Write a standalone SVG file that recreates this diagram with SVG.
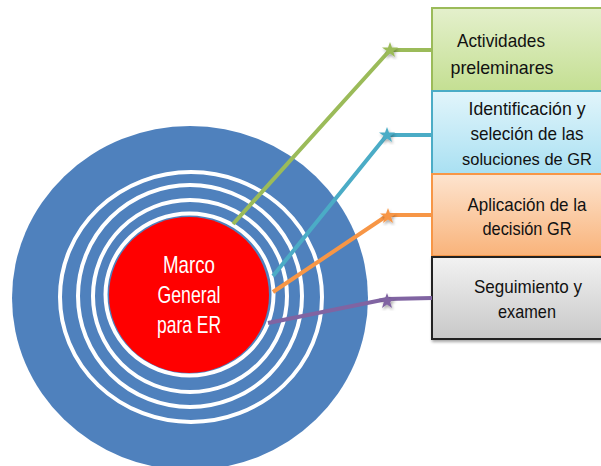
<svg xmlns="http://www.w3.org/2000/svg" width="601" height="466" viewBox="0 0 601 466">
<defs>
<linearGradient id="gGreen" x1="0" y1="0" x2="0" y2="1"><stop offset="0" stop-color="#e4f0cc"/><stop offset="1" stop-color="#c4df92"/></linearGradient>
<linearGradient id="gBlue" x1="0" y1="0" x2="0" y2="1"><stop offset="0" stop-color="#e2f5fb"/><stop offset="1" stop-color="#a9e0f2"/></linearGradient>
<linearGradient id="gOrange" x1="0" y1="0" x2="0" y2="1"><stop offset="0" stop-color="#fde4cf"/><stop offset="1" stop-color="#f9b37a"/></linearGradient>
<linearGradient id="gGray" x1="0" y1="0" x2="0" y2="1"><stop offset="0" stop-color="#f2f2f2"/><stop offset="1" stop-color="#c8c8c8"/></linearGradient>
<filter id="sh" x="-20%" y="-20%" width="140%" height="140%"><feDropShadow dx="1" dy="2" stdDeviation="1.5" flood-color="#000" flood-opacity="0.35"/></filter>
<path id="star" d="M0,-8 L2,-2.5 8,-2.5 3.2,1.1 5,7 0,3.6 -5,7 -3.2,1.1 -8,-2.5 -2,-2.5 Z"/>
</defs>
<style>
.ring{fill:none;stroke:#fff;stroke-width:4}
.box{stroke-width:2}
.bt{font-family:"Liberation Sans",Arial,sans-serif;font-size:19px;fill:#111;text-anchor:middle}
.ct{font-family:"Liberation Sans",Arial,sans-serif;font-size:24px;fill:#fff;text-anchor:middle}
.ln{fill:none;stroke-width:4;stroke-linejoin:round}
</style>

<g id="target">
<ellipse cx="190" cy="298" rx="178" ry="172" fill="#4f81bd"/>
<ellipse class="ring" cx="191" cy="297" rx="131" ry="125"/>
<ellipse class="ring" cx="190" cy="296" rx="112" ry="111"/>
<ellipse class="ring" cx="190" cy="296" rx="97" ry="96"/>
<ellipse class="ring" cx="189.5" cy="294.5" rx="84" ry="81"/>
</g>

<g id="boxes">
<g id="box1"><rect class="box" x="432" y="8" width="180" height="83" fill="url(#gGreen)" stroke="#9bbb59"/>
<text class="bt" x="501" y="47" textLength="88" lengthAdjust="spacingAndGlyphs">Actividades</text>
<text class="bt" x="502" y="74" textLength="103" lengthAdjust="spacingAndGlyphs">preleminares</text></g>
<g id="box2"><rect class="box" x="432" y="91" width="180" height="83" fill="url(#gBlue)" stroke="#4bacc6"/>
<text class="bt" x="527" y="115" textLength="117" lengthAdjust="spacingAndGlyphs">Identificación y</text>
<text class="bt" x="527" y="140" textLength="113" lengthAdjust="spacingAndGlyphs">seleción de las</text>
<text class="bt" x="527" y="165" style="font-size:17px" textLength="130" lengthAdjust="spacingAndGlyphs">soluciones de GR</text></g>
<g id="box3"><rect class="box" x="432" y="174" width="180" height="82" fill="url(#gOrange)" stroke="#f79646"/>
<text class="bt" x="527" y="211" textLength="119" lengthAdjust="spacingAndGlyphs">Aplicación de la</text>
<text class="bt" x="527" y="235" textLength="89" lengthAdjust="spacingAndGlyphs">decisión GR</text></g>
<g id="box4"><rect class="box" x="432" y="257" width="180" height="82" fill="url(#gGray)" stroke="#222" filter="url(#sh)"/>
<text class="bt" x="528" y="293" textLength="108" lengthAdjust="spacingAndGlyphs">Seguimiento y</text>
<text class="bt" x="527" y="318" textLength="58" lengthAdjust="spacingAndGlyphs">examen</text></g>
</g>

<g id="center">
<ellipse cx="189" cy="295" rx="80" ry="78" fill="#ff0000"/>
<text class="ct" x="189" y="273" textLength="52" lengthAdjust="spacingAndGlyphs">Marco</text>
<text class="ct" x="189" y="303" textLength="63" lengthAdjust="spacingAndGlyphs">General</text>
<text class="ct" x="189" y="333" textLength="64" lengthAdjust="spacingAndGlyphs">para ER</text>
</g>

<g id="connectors">
<polyline class="ln" stroke="#9bbb59" points="233,224 390,50 432,50"/>
<polyline class="ln" stroke="#4bacc6" points="273,276 387,135 432,135"/>
<polyline class="ln" stroke="#f79646" points="273,292 388,215 432,215"/>
<polyline class="ln" stroke="#8064a2" points="268,323 387,299 432,298"/>
<use href="#star" x="390" y="50" fill="#9bbb59" filter="url(#sh)"/>
<use href="#star" x="387" y="135" fill="#4bacc6" filter="url(#sh)"/>
<use href="#star" x="388" y="216" fill="#f79646" filter="url(#sh)"/>
<use href="#star" x="387" y="301" fill="#8064a2" filter="url(#sh)"/>
</g>
</svg>
